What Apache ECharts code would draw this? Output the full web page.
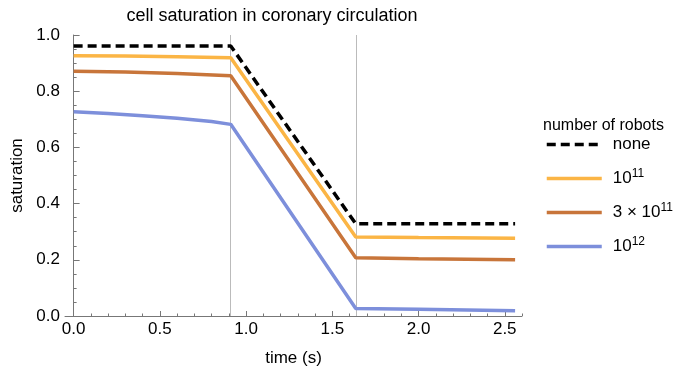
<!DOCTYPE html>
<html>
<head>
<meta charset="utf-8">
<script src="https://cdn.jsdelivr.net/npm/echarts@6/dist/echarts.min.js"></script>
<style>html,body{margin:0;padding:0;background:#fff}#c{width:674px;height:375px}</style>
</head>
<body>
<div id="c"></div>
<script>
// ---- data ----
var seriesNames = ['none', '10^11', '3x10^11', '10^12'];
var legendTitle = 'number of robots';
var xNone   = [0, 0.911, 1.636, 2.56];
var yNone   = [0.961, 0.961, 0.328, 0.328];
var x1e11   = [0, 0.3, 0.6, 0.911, 1.636, 2.0, 2.56];
var y1e11   = [0.926, 0.925, 0.923, 0.919, 0.281, 0.279, 0.277];
var x3e11   = [0, 0.3, 0.6, 0.911, 1.636, 2.0, 2.56];
var y3e11   = [0.871, 0.868, 0.863, 0.855, 0.207, 0.204, 0.200];
var x1e12   = [0, 0.2, 0.4, 0.6, 0.8, 0.911, 1.636, 2.0, 2.56];
var y1e12   = [0.727, 0.721, 0.713, 0.704, 0.692, 0.682, 0.027, 0.024, 0.019];
var phaseBoundaries = [0.911, 1.636];
var xMajorTicks = [0, 0.5, 1.0, 1.5, 2.0, 2.5];
var xMinorTicks = [0.1,0.2,0.3,0.4,0.6,0.7,0.8,0.9,1.1,1.2,1.3,1.4,1.6,1.7,1.8,1.9,2.1,2.2,2.3,2.4,2.6];
var yTickLabels = ['0.0','0.2','0.4','0.6','0.8','1.0'];

function zip(xs, ys){ return xs.map(function(x,i){return [x, ys[i]];}); }

var colors = ['#000000', '#FBB545', '#C8753A', '#7D8FDB'];
var font = 'Liberation Sans, Arial, sans-serif';
var fs = 17;
var labelMap = {
  'none': 'none',
  '10^11': '10{sup|11}',
  '3x10^11': '3 \u00d7 10{sup|11}',
  '10^12': '10{sup|12}'
};

var chart = echarts.init(document.getElementById('c'));
var lineData = [zip(xNone,yNone), zip(x1e11,y1e11), zip(x3e11,y3e11), zip(x1e12,y1e12)];

var series = lineData.map(function(d, i){
  return {
    name: seriesNames[i],
    type: 'line',
    data: d,
    symbol: 'none',
    showSymbol: false,
    z: 10 - i,
    lineStyle: {color: colors[i], width: 3.5, type: i === 0 ? [9, 5] : 'solid'},
    itemStyle: {color: colors[i]}
  };
});
series[0].z = 20;
series[1].markLine = {
  silent: true,
  symbol: 'none',
  label: {show: false},
  lineStyle: {color: '#bbbbbb', width: 1, type: 'solid'},
  data: phaseBoundaries.map(function(v){ return {xAxis: v}; })
};

var option = {
  animation: false,
  backgroundColor: '#ffffff',
  title: [
    {text: 'cell saturation in coronary circulation', left: 267, top: 2, textAlign: 'center',
     textStyle: {fontFamily: font, fontSize: 18, fontWeight: 'normal', color: '#000'}},
    {text: legendTitle, left: 538, top: 113,
     textStyle: {fontFamily: font, fontSize: 16, fontWeight: 'normal', color: '#000'}}
  ],
  legend: {
    orient: 'vertical',
    left: 540,
    top: 131,
    itemWidth: 55,
    itemHeight: 16,
    itemGap: 15,
    data: seriesNames,
    itemStyle: {opacity: 0, borderWidth: 0},
    lineStyle: {width: 3.5},
    formatter: function(n){ return labelMap[n]; },
    textStyle: {
      fontFamily: font, fontSize: fs, color: '#000', padding: [0,0,0,6],
      rich: {sup: {fontFamily: font, fontSize: 12, padding: [0,0,9,0], color: '#000'}}
    }
  },
  grid: {left: 65, right: 152, top: 35, bottom: 59},
  xAxis: [{
    type: 'value', min: -0.05, max: 2.6,
    name: 'time (s)', nameLocation: 'middle', nameGap: 34,
    nameTextStyle: {fontFamily: font, fontSize: fs, color: '#000'},
    axisLine: {onZero: false, lineStyle: {color: '#777', width: 1}},
    axisTick: {show: true, inside: true, length: 5, lineStyle: {color: '#777'}, customValues: xMajorTicks},
    axisLabel: {fontFamily: font, fontSize: fs, color: '#000', margin: 5, customValues: xMajorTicks,
                formatter: function(v){ return v.toFixed(1); }},
    splitLine: {show: false}
  }, {
    type: 'value', min: -0.05, max: 2.6, position: 'bottom',
    axisLine: {show: false},
    axisTick: {show: true, inside: true, length: 2.5, lineStyle: {color: '#777'}, customValues: xMinorTicks},
    axisLabel: {show: false},
    splitLine: {show: false}
  }],
  yAxis: {
    type: 'value', min: 0, max: 1, interval: 0.2,
    name: 'saturation', nameLocation: 'middle', nameGap: 37, nameRotate: 90,
    nameTextStyle: {fontFamily: font, fontSize: fs, color: '#000'},
    axisLine: {show: true, lineStyle: {color: '#777', width: 1}},
    axisTick: {show: true, inside: true, length: 6, lineStyle: {color: '#777'}},
    minorTick: {show: true, splitNumber: 4, length: 3, lineStyle: {color: '#777'}},
    axisLabel: {fontFamily: font, fontSize: fs, color: '#000', margin: 5,
                formatter: function(v){ return yTickLabels[Math.round(v/0.2)]; }},
    splitLine: {show: false}
  },
  series: series
};
chart.setOption(option);
</script>
</body>
</html>
